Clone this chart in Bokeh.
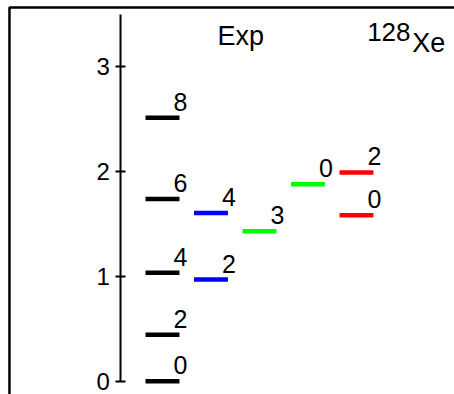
from bokeh.plotting import figure
from bokeh.models import LinearAxis, FixedTicker, BoxAnnotation, Label, ColumnDataSource, Range1d
from bokeh.core.properties import value
from bokeh.embed import file_html
from bokeh.resources import INLINE

# ---- data (energies in MeV) ----
gsb_col = [0, 0, 0, 0, 0]
gsb_E = [0.0, 0.443, 1.033, 1.737, 2.512]
gsb_J = ["0", "2", "4", "6", "8"]

gam_col = [1, 1]
gam_E = [0.969, 1.603]
gam_J = ["2", "4"]

grn_col = [2, 3]
grn_E = [1.430, 1.877]
grn_J = ["3", "0"]

red_col = [4, 4]
red_E = [1.583, 1.990]
red_J = ["0", "2"]

y_ticks = [0, 1, 2, 3]

FONT = "Liberation Sans"
HALF = 0.35

p = figure(width=454, height=394, output_backend="svg", toolbar_location=None,
           x_range=Range1d(-3.340, 6.021), y_range=Range1d(-0.1268, 3.629),
           x_axis_location=None, y_axis_location=None,
           min_border_left=0, min_border_right=0, min_border_top=0, min_border_bottom=0)
p.grid.visible = False
p.outline_line_color = None
p.background_fill_color = "white"
p.border_fill_color = "white"

# outer frame (top and left sides visible)
p.add_layout(BoxAnnotation(left=-3.155, top=3.562, right=8, bottom=-1,
                           fill_color=None, fill_alpha=0, line_color="black",
                           line_alpha=1.0, line_width=2.5))

yax = LinearAxis(ticker=FixedTicker(ticks=y_ticks), fixed_location=-0.856, bounds=(0, 3.5))
yax.axis_line_width = 2
yax.major_tick_line_width = 2
yax.major_tick_in = 5
yax.major_tick_out = 5
yax.minor_tick_line_color = None
yax.major_label_standoff = 6
yax.major_label_text_font = FONT
yax.major_label_text_font_size = "24px"
yax.major_label_text_color = "black"
p.add_layout(yax, "left")

for cols, E, J, color in [(gsb_col, gsb_E, gsb_J, "black"),
                          (gam_col, gam_E, gam_J, "#0000ff"),
                          (grn_col, grn_E, grn_J, "#00ff00"),
                          (red_col, red_E, red_J, "#ff0000")]:
    src = ColumnDataSource(dict(
        x0=[c - HALF for c in cols], x1=[c + HALF for c in cols], y=E, J=J))
    p.segment(x0="x0", y0="y", x1="x1", y1="y", source=src, line_color=color, line_width=4.5)
    p.text(x="x1", y="y", text="J", source=src, x_offset=-6, y_offset=-16,
           text_font=value(FONT), text_font_size="25px", text_color="black",
           text_baseline="alphabetic", text_align="left")

p.add_layout(Label(x=1.134, y=3.295, text="Exp", text_font=FONT, text_font_size="27px",
                   text_color="black", text_baseline="alphabetic"))
p.add_layout(Label(x=4.22, y=3.325, text="128", text_font=FONT, text_font_size="26px",
                   text_color="black", text_baseline="alphabetic"))
p.add_layout(Label(x=5.15, y=3.22, text="Xe", text_font=FONT, text_font_size="27px",
                   text_color="black", text_baseline="alphabetic"))

open("out.html", "w").write(file_html(p, INLINE))
